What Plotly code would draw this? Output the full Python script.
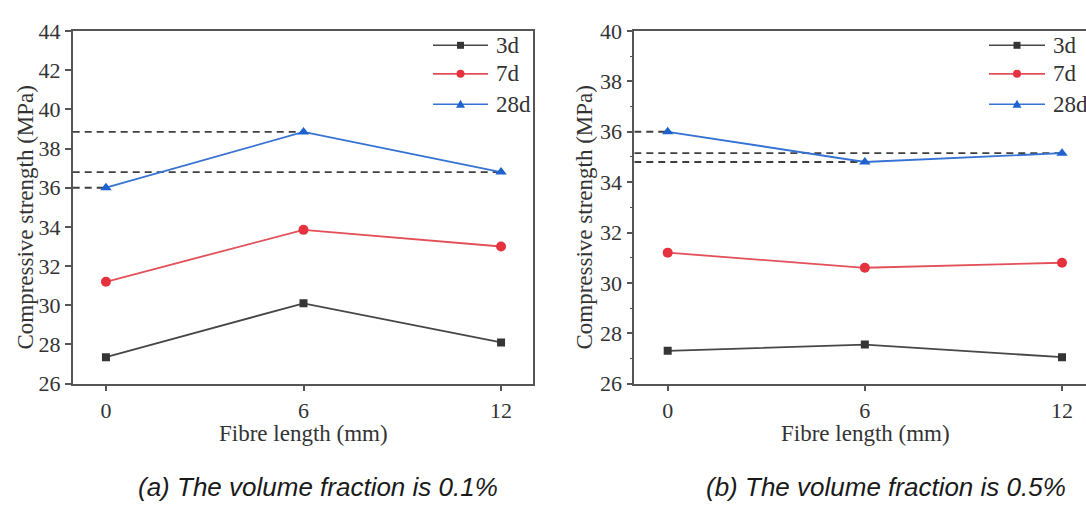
import plotly.graph_objects as go

# Fibre length (mm) and compressive strength (MPa) at each curing age
fibre_length = [0, 6, 12]
ages = ["3d", "7d", "28d"]

vf01_3d = [27.35, 30.1, 28.1]
vf01_7d = [31.2, 33.85, 33.0]
vf01_28d = [36.0, 38.85, 36.8]

vf05_3d = [27.3, 27.55, 27.05]
vf05_7d = [31.2, 30.6, 30.8]
vf05_28d = [36.0, 34.8, 35.15]

y_ticks_a = [26, 28, 30, 32, 34, 36, 38, 40, 42, 44]
y_ticks_b = [26, 28, 30, 32, 34, 36, 38, 40]

captions = ["(a) The volume fraction is 0.1%", "(b) The volume fraction is 0.5%"]
y_title = "Compressive strength (MPa)"
x_title = "Fibre length (mm)"

W, H = 1086, 517
SERIF = "Liberation Serif"
SANS = "Liberation Sans"

line_cols = {"3d": "#474747", "7d": "#e2505a", "28d": "#3672d4"}
mark_cols = {"3d": "#353535", "7d": "#e6323e", "28d": "#1d62cf"}
symbols = {"3d": "square", "7d": "circle", "28d": "triangle-up"}
msizes = {"3d": 8, "7d": 10, "28d": 10}

panels = [
    dict(xa="x", ya="y", xr=[-1.01, 12.97], yr=[26, 44],
         series=[vf01_3d, vf01_7d, vf01_28d]),
    dict(xa="x2", ya="y2", xr=[-1.016, 12.73], yr=[26, 40],
         series=[vf05_3d, vf05_7d, vf05_28d]),
]


def px(x):
    return x / W


def py(y):
    return 1 - y / H


fig = go.Figure()

for p in panels:
    # dashed guides from the y-axis to each 28d point
    for xv, yv in zip(fibre_length, p["series"][2]):
        fig.add_trace(go.Scatter(
            x=[p["xr"][0], xv], y=[yv, yv], xaxis=p["xa"], yaxis=p["ya"],
            mode="lines", line=dict(color="#3f3f3f", width=1.8, dash="7px,5px"),
            showlegend=False, hoverinfo="skip"))
    for age, vals in zip(ages, p["series"]):
        fig.add_trace(go.Scatter(
            x=fibre_length, y=vals, xaxis=p["xa"], yaxis=p["ya"], name=age,
            mode="lines+markers",
            line=dict(color=line_cols[age], width=1.8),
            marker=dict(symbol=symbols[age], size=msizes[age], color=mark_cols[age]),
            showlegend=False))

axis_common = dict(showline=True, linecolor="#555", linewidth=1.6, showgrid=False,
                   zeroline=False, ticks="outside", ticklen=6, tickwidth=1.5,
                   tickcolor="#555", tickfont=dict(family=SERIF, size=22, color="#333"))

fig.update_layout(
    width=W, height=H, margin=dict(l=0, r=0, t=0, b=0),
    paper_bgcolor="white", plot_bgcolor="white", showlegend=False,
    xaxis=dict(domain=[px(72.7), px(533)], range=panels[0]["xr"], anchor="y",
               tickvals=fibre_length, mirror=True, **axis_common),
    yaxis=dict(domain=[py(390.5), py(20)], range=panels[0]["yr"], anchor="x",
               tickvals=y_ticks_a, mirror=True, **axis_common),
    xaxis2=dict(domain=[px(634.3), 1.0], range=panels[1]["xr"], anchor="y2",
                tickvals=fibre_length, mirror=True, **axis_common),
    yaxis2=dict(domain=[py(390.5), py(20)], range=panels[1]["yr"], anchor="x2",
                tickvals=y_ticks_b, mirror=False,
                minor=dict(ticks="outside", ticklen=3, tickwidth=1.2, tickcolor="#555",
                           dtick=1),
                **axis_common),
)

annotations = []
shapes = []

# axis titles
for xc_title, xc_y in [(303.5, 26), (865, 585)]:
    annotations.append(dict(text=x_title, x=px(xc_title), y=py(443), xref="paper", yref="paper",
                            showarrow=False, xanchor="center", yanchor="middle",
                            font=dict(family=SERIF, size=23, color="#333")))
    annotations.append(dict(text=y_title, x=px(xc_y), y=py(216), xref="paper", yref="paper",
                            showarrow=False, textangle=-90, xanchor="center", yanchor="middle",
                            font=dict(family=SERIF, size=23, color="#333")))

# panel captions
for cap, xc in zip(captions, [318, 886]):
    annotations.append(dict(text=cap, x=px(xc), y=py(499), xref="paper", yref="paper",
                            showarrow=False, xanchor="center", yanchor="middle",
                            font=dict(family=SANS, size=26, color="#1a1a1a", style="italic")))

# legend keys for each panel
legend_rows = [35, 65, 97]
for x0, x1, xt in [(433, 488, 494), (989, 1045, 1051)]:
    xm = (x0 + x1) / 2
    for age, yrow in zip(ages, legend_rows):
        shapes.append(dict(type="line", xref="paper", yref="paper",
                           x0=px(x0), x1=px(x1), y0=py(yrow), y1=py(yrow),
                           line=dict(color=line_cols[age], width=1.6)))
        if age == "3d":
            shapes.append(dict(type="rect", xref="paper", yref="paper",
                               xsizemode="pixel", ysizemode="pixel",
                               xanchor=px(xm), yanchor=py(yrow),
                               x0=-3.5, x1=3.5, y0=-3.5, y1=3.5,
                               fillcolor=mark_cols[age], line=dict(width=0)))
        elif age == "7d":
            shapes.append(dict(type="circle", xref="paper", yref="paper",
                               xsizemode="pixel", ysizemode="pixel",
                               xanchor=px(xm), yanchor=py(yrow),
                               x0=-4, x1=4, y0=-4, y1=4,
                               fillcolor=mark_cols[age], line=dict(width=0)))
        else:
            shapes.append(dict(type="path", xref="paper", yref="paper",
                               xsizemode="pixel", ysizemode="pixel",
                               xanchor=px(xm), yanchor=py(yrow),
                               path="M -4.5 -3.5 L 4.5 -3.5 L 0 4.5 Z",
                               fillcolor=mark_cols[age], line=dict(width=0)))
        annotations.append(dict(text=age, x=px(xt), y=py(yrow), xref="paper", yref="paper",
                                showarrow=False, xanchor="left", yanchor="middle",
                                font=dict(family=SERIF, size=23, color="#333")))

fig.update_layout(annotations=annotations, shapes=shapes)

fig.write_html("out.html")
